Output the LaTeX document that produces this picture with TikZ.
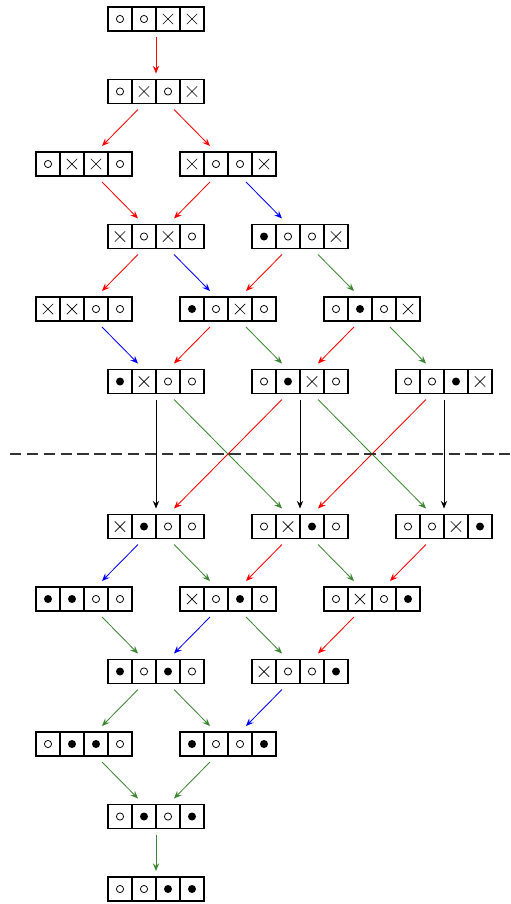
\documentclass[tikz,border=0pt]{standalone}
\usepackage{tikz}
\usetikzlibrary{arrows.meta, positioning, calc}
\definecolor{movegreen}{RGB}{60,135,50}

% cell symbols, drawn at a named coordinate
\newcommand{\cellO}[1]{\draw[line width=0.55pt] (#1) circle (0.09cm);}
\newcommand{\cellX}[1]{\draw[line width=0.5pt] (#1) +(-0.13,-0.13) -- +(0.13,0.13) +(-0.13,0.13) -- +(0.13,-0.13);}
\newcommand{\cellF}[1]{\fill (#1) circle (0.1cm);}
% fill a board node with four symbols
\newcommand{\cells}[2]{%
  \foreach \s [count=\i] in {#2}{
    \coordinate (cc) at ([xshift=\i*0.6cm-0.3cm]#1.west);
    \csname cell\s\endcsname{cc}
  }
  \foreach \i in {1,2,3}
    \draw[line width=0.9pt] ([xshift=\i*0.6cm]#1.south west) -- ([xshift=\i*0.6cm]#1.north west);
}
% one move: colour, from, to, horizontal offset at the start
\newcommand{\mv}[4]{\draw[arr, #1] ([xshift=#4 cm, yshift=-0.15cm]#2.south) -- ([xshift={-1*(#4)*1cm}, yshift=0.15cm]#3.north);}

\begin{document}
\begin{tikzpicture}[
  node distance=1.2125cm,
  board/.style={rectangle, draw, line width=0.9pt, minimum width=2.4cm,
    minimum height=0.6cm, inner sep=0pt, outer sep=0pt},
  arr/.style={-{Stealth[length=5.5pt, width=4.5pt, inset=2pt]}, line width=0.6pt},
  cut/.style={dashed, dash pattern=on 8pt off 4pt, line width=0.85pt, black!80}
]
  \useasboundingbox (-3.9,0.475) rectangle (8.85,-22.125);

  \node[board] (r0) {};
  \node[board, below=of r0] (r1) {};
  \node[board, below=of r1, xshift=-1.8cm] (r2a) {};
  \node[board, below=of r1, xshift=1.8cm]  (r2b) {};
  \node[board, below=of r2a, xshift=1.8cm] (r3a) {};
  \node[board, below=of r2b, xshift=1.8cm] (r3b) {};
  \node[board, below=of r3a, xshift=-1.8cm] (r4a) {};
  \node[board, below=of r3a, xshift=1.8cm]  (r4b) {};
  \node[board, below=of r3b, xshift=1.8cm]  (r4c) {};
  \node[board, below=of r4a, xshift=1.8cm] (r5a) {};
  \node[board, below=of r4b, xshift=1.8cm] (r5b) {};
  \node[board, below=of r4c, xshift=1.8cm] (r5c) {};
  \node[board, below=3.025cm of r5a] (r6a) {};
  \node[board, below=3.025cm of r5b] (r6b) {};
  \node[board, below=3.025cm of r5c] (r6c) {};
  \node[board, below=of r6a, xshift=-1.8cm] (r7a) {};
  \node[board, below=of r6a, xshift=1.8cm]  (r7b) {};
  \node[board, below=of r6b, xshift=1.8cm]  (r7c) {};
  \node[board, below=of r7a, xshift=1.8cm] (r8a) {};
  \node[board, below=of r7b, xshift=1.8cm] (r8b) {};
  \node[board, below=of r8a, xshift=-1.8cm] (r9a) {};
  \node[board, below=of r8a, xshift=1.8cm]  (r9b) {};
  \node[board, below=of r9a, xshift=1.8cm] (r10) {};
  \node[board, below=of r10] (r11) {};

  \cells{r0}{O,O,X,X}
  \cells{r1}{O,X,O,X}
  \cells{r2a}{O,X,X,O}  \cells{r2b}{X,O,O,X}
  \cells{r3a}{X,O,X,O}  \cells{r3b}{F,O,O,X}
  \cells{r4a}{X,X,O,O}  \cells{r4b}{F,O,X,O}  \cells{r4c}{O,F,O,X}
  \cells{r5a}{F,X,O,O}  \cells{r5b}{O,F,X,O}  \cells{r5c}{O,O,F,X}
  \cells{r6a}{X,F,O,O}  \cells{r6b}{O,X,F,O}  \cells{r6c}{O,O,X,F}
  \cells{r7a}{F,F,O,O}  \cells{r7b}{X,O,F,O}  \cells{r7c}{O,X,O,F}
  \cells{r8a}{F,O,F,O}  \cells{r8b}{X,O,O,F}
  \cells{r9a}{O,F,F,O}  \cells{r9b}{F,O,O,F}
  \cells{r10}{O,F,O,F}
  \cells{r11}{O,O,F,F}

  %% moves
  \mv{red}{r0}{r1}{0}
  \mv{red}{r1}{r2a}{-0.45}   \mv{red}{r1}{r2b}{0.45}
  \mv{red}{r2a}{r3a}{0.45}   \mv{red}{r2b}{r3a}{-0.45}  \mv{blue}{r2b}{r3b}{0.45}
  \mv{red}{r3a}{r4a}{-0.45}  \mv{blue}{r3a}{r4b}{0.45}
  \mv{red}{r3b}{r4b}{-0.45}  \mv{movegreen}{r3b}{r4c}{0.45}
  \mv{blue}{r4a}{r5a}{0.45}  \mv{red}{r4b}{r5a}{-0.45}  \mv{movegreen}{r4b}{r5b}{0.45}
  \mv{red}{r4c}{r5b}{-0.45}  \mv{movegreen}{r4c}{r5c}{0.45}
  \mv{black}{r5a}{r6a}{0}    \mv{movegreen}{r5a}{r6b}{0.45}
  \mv{red}{r5b}{r6a}{-0.45}  \mv{black}{r5b}{r6b}{0}    \mv{movegreen}{r5b}{r6c}{0.45}
  \mv{red}{r5c}{r6b}{-0.45}  \mv{black}{r5c}{r6c}{0}
  \mv{blue}{r6a}{r7a}{-0.45} \mv{movegreen}{r6a}{r7b}{0.45}
  \mv{red}{r6b}{r7b}{-0.45}  \mv{movegreen}{r6b}{r7c}{0.45}
  \mv{red}{r6c}{r7c}{-0.45}
  \mv{movegreen}{r7a}{r8a}{0.45}  \mv{blue}{r7b}{r8a}{-0.45}
  \mv{movegreen}{r7b}{r8b}{0.45}  \mv{red}{r7c}{r8b}{-0.45}
  \mv{movegreen}{r8a}{r9a}{-0.45} \mv{movegreen}{r8a}{r9b}{0.45}
  \mv{blue}{r8b}{r9b}{-0.45}
  \mv{movegreen}{r9a}{r10}{0.45}  \mv{movegreen}{r9b}{r10}{-0.45}
  \mv{movegreen}{r10}{r11}{0}

  %% cut line
  \coordinate (cutmid) at ($(r5a)!0.5!(r6a)$);
  \draw[cut] ([xshift=-3.65cm]cutmid) -- ([xshift=8.85cm]cutmid);
\end{tikzpicture}
\end{document}
